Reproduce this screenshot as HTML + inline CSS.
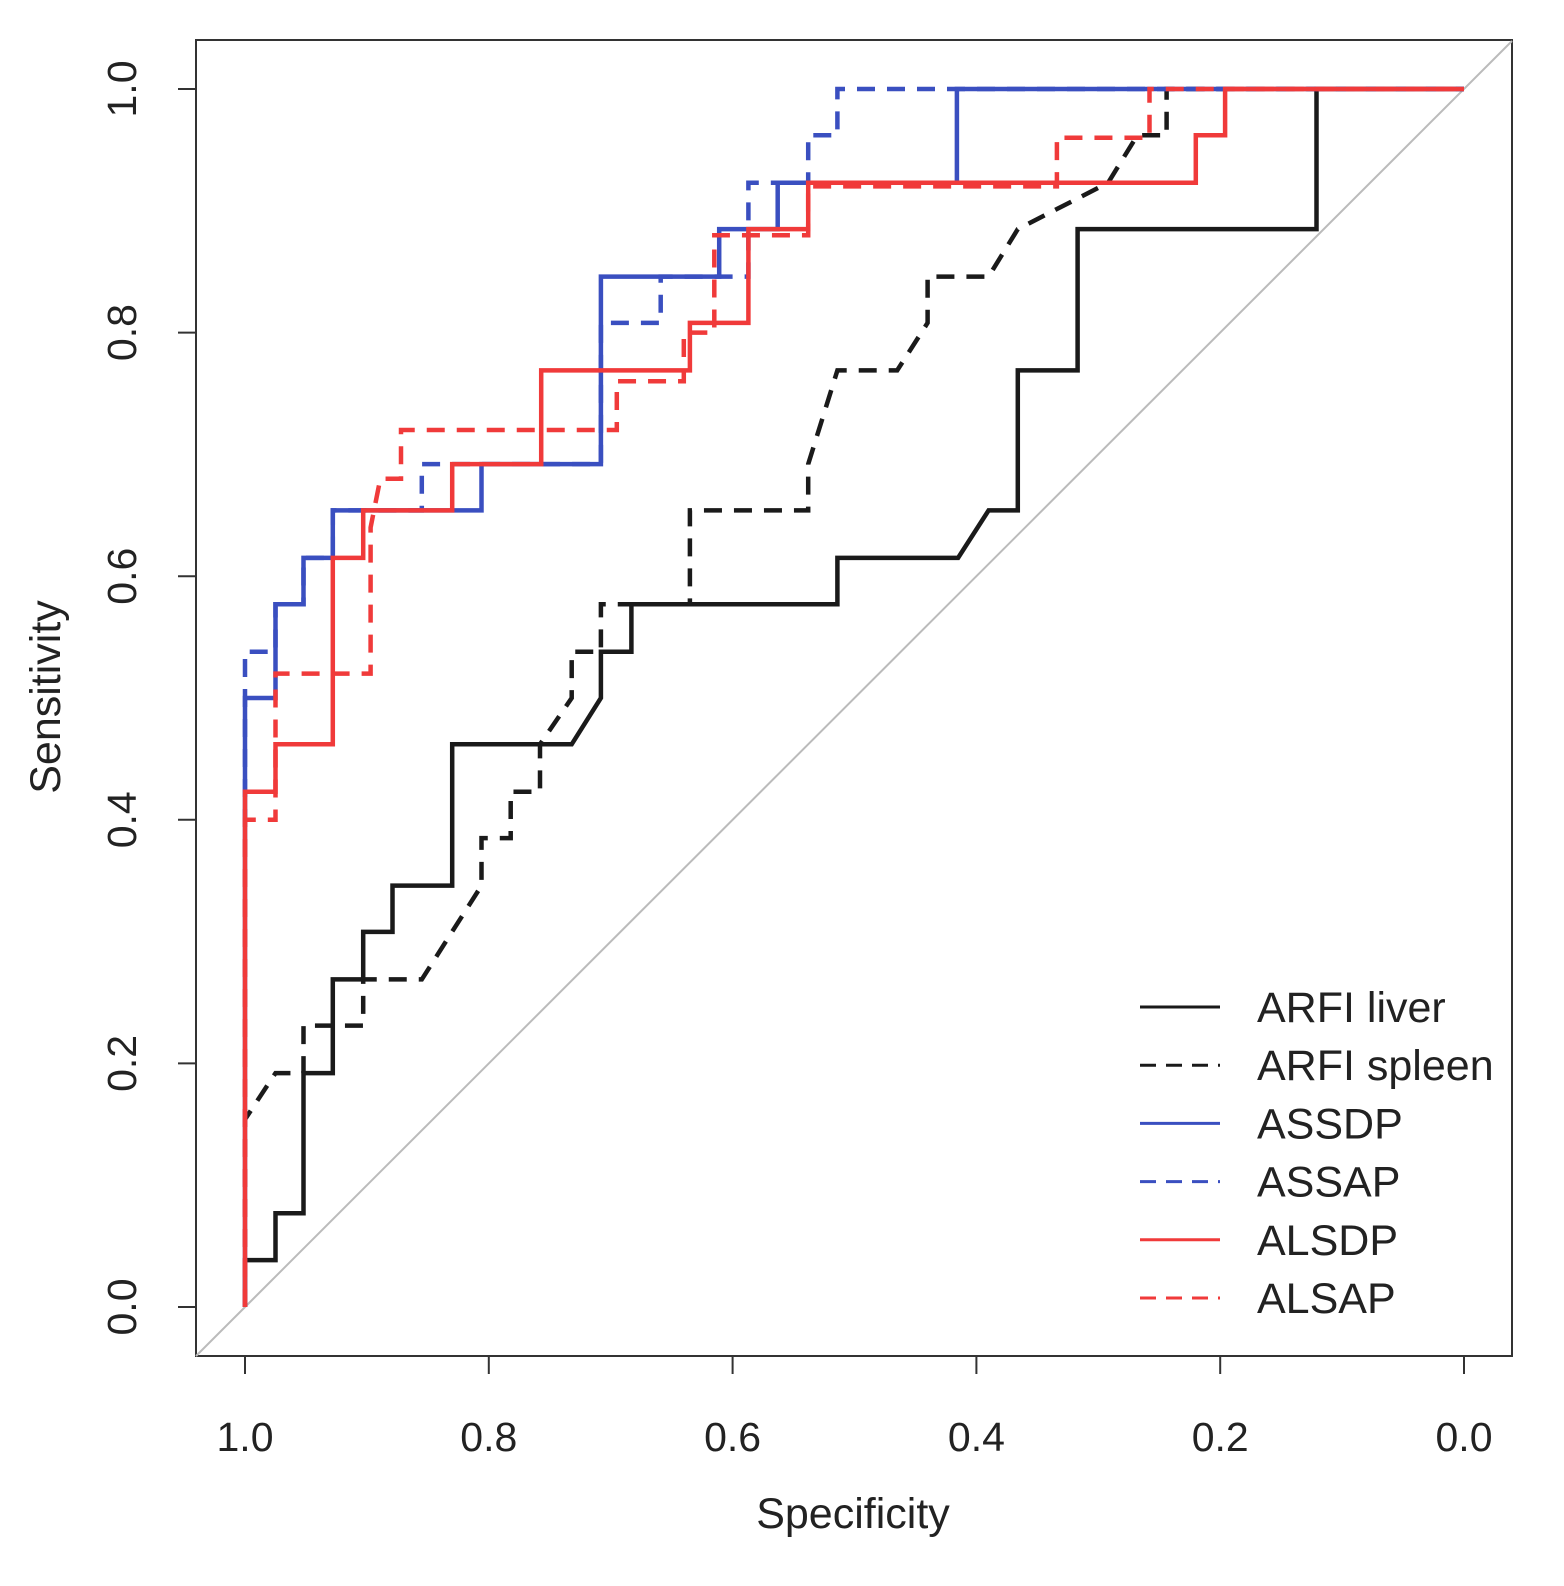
<!DOCTYPE html>
<html><head><meta charset="utf-8"><style>
html,body{margin:0;padding:0;background:#fff;}
svg{display:block;font-family:"Liberation Sans",sans-serif;}
</style></head><body>
<svg id="chart" width="1564" height="1586" viewBox="0 0 1564 1586">
<rect x="196" y="40" width="1316" height="1316" fill="none" stroke="#333" stroke-width="2"/>
<g id="axes"></g>
<g id="series"></g>
<g id="legend"></g>
</svg>
<script>
const xTicks = [1.0, 0.8, 0.6, 0.4, 0.2, 0.0];
const yTicks = [0.0, 0.2, 0.4, 0.6, 0.8, 1.0];
const seriesNames = ["ARFI liver", "ARFI spleen", "ASSDP", "ASSAP", "ALSDP", "ALSAP"];
const liverSpec = [1,1,0.975,0.975,0.952,0.952,0.928,0.928,0.903,0.903,0.879,0.879,0.830,0.830,0.732,0.708,0.708,0.683,0.683,0.514,0.514,0.415,0.390,0.366,0.366,0.317,0.317,0.121,0.121,0];
const liverSens = [0,0.0385,0.0385,0.077,0.077,0.192,0.192,0.269,0.269,0.308,0.308,0.346,0.346,0.462,0.462,0.5,0.538,0.538,0.577,0.577,0.615,0.615,0.654,0.654,0.769,0.769,0.885,0.885,1,1];
const spleenSpec = [1,1,0.975,0.952,0.952,0.903,0.903,0.855,0.806,0.806,0.782,0.782,0.758,0.758,0.732,0.732,0.708,0.708,0.635,0.635,0.538,0.538,0.514,0.465,0.440,0.440,0.390,0.366,0.366,0.292,0.268,0.244,0.244,0];
const spleenSens = [0,0.154,0.192,0.192,0.231,0.231,0.269,0.269,0.346,0.385,0.385,0.423,0.423,0.462,0.5,0.538,0.538,0.577,0.577,0.654,0.654,0.692,0.769,0.769,0.808,0.846,0.846,0.885,0.885,0.923,0.962,0.962,1,1];
const assdpSpec = [1,1,0.975,0.975,0.952,0.952,0.928,0.928,0.806,0.806,0.708,0.708,0.611,0.611,0.563,0.563,0.416,0.416,0];
const assdpSens = [0,0.5,0.5,0.577,0.577,0.615,0.615,0.654,0.654,0.692,0.692,0.846,0.846,0.885,0.885,0.923,0.923,1,1];
const assapSpec = [1,1,0.975,0.975,0.952,0.952,0.928,0.928,0.855,0.855,0.708,0.708,0.659,0.659,0.587,0.587,0.538,0.538,0.514,0.514,0];
const assapSens = [0,0.538,0.538,0.577,0.577,0.615,0.615,0.654,0.654,0.692,0.692,0.808,0.808,0.846,0.846,0.923,0.923,0.962,0.962,1,1];
const alsdpSpec = [1,1,0.975,0.975,0.928,0.928,0.903,0.903,0.830,0.830,0.757,0.757,0.635,0.635,0.587,0.587,0.538,0.538,0.220,0.220,0.196,0.196,0];
const alsdpSens = [0,0.423,0.423,0.462,0.462,0.615,0.615,0.654,0.654,0.692,0.692,0.769,0.769,0.808,0.808,0.885,0.885,0.923,0.923,0.962,0.962,1,1];
const alsapSpec = [1,1,0.975,0.975,0.897,0.897,0.889,0.872,0.872,0.695,0.695,0.640,0.640,0.615,0.615,0.538,0.538,0.334,0.334,0.258,0.258,0];
const alsapSens = [0,0.4,0.4,0.52,0.52,0.64,0.68,0.68,0.72,0.72,0.76,0.76,0.80,0.80,0.88,0.88,0.92,0.92,0.96,0.96,1,1];

const X = s => 245 + (1 - s) * 1219;
const Y = v => 1307 - v * 1218;
const NS = "http://www.w3.org/2000/svg";
function mk(tag, attrs, parent, text){const e=document.createElementNS(NS,tag);for(const k in attrs)e.setAttribute(k,attrs[k]);if(text!==undefined)e.textContent=text;parent.appendChild(e);return e;}
const axes=document.getElementById('axes');
xTicks.forEach(t=>{
  const l=mk('line',{x1:X(t),x2:X(t),y1:1356,y2:1374,stroke:'#333','stroke-width':2},axes);
  
  
  const tx=mk('text',{x:X(t),y:1451,'font-size':41,'text-anchor':'middle',fill:'#222'},axes,t.toFixed(1));
  
  
});
yTicks.forEach(t=>{
  const l=mk('line',{x1:178,x2:196,y1:Y(t),y2:Y(t),stroke:'#333','stroke-width':2},axes);
  
  
  const tx=mk('text',{x:0,y:0,'font-size':41,'text-anchor':'middle',fill:'#222',transform:`translate(136,${Y(t)}) rotate(-90)`},axes,t.toFixed(1));
  
  
});
const xt=mk('text',{x:853,y:1528,'font-size':43,'text-anchor':'middle',fill:'#222'},axes,'Specificity');


const yt=mk('text',{x:0,y:0,'font-size':43,'text-anchor':'middle',fill:'#222',transform:'translate(60,697) rotate(-90)'},axes,'Sensitivity');


const diag=mk('line',{x1:196,y1:1356,x2:1512,y2:41,stroke:'#bbb','stroke-width':2},axes);



const ser=document.getElementById('series');
const styles=[
 [liverSpec,liverSens,'#1a1a1a',null],
 [spleenSpec,spleenSens,'#1a1a1a','18 12'],
 [assdpSpec,assdpSens,'#3a4fc0',null],
 [assapSpec,assapSens,'#3a4fc0','18 12'],
 [alsdpSpec,alsdpSens,'#f03a3a',null],
 [alsapSpec,alsapSens,'#f03a3a','18 12']];
styles.forEach((s,i)=>{
  const pts=s[0].map((v,j)=>X(v).toFixed(1)+','+Y(s[1][j]).toFixed(1)).join(' ');
  const a={points:pts,fill:'none',stroke:s[2],'stroke-width':4.5,'stroke-linejoin':'miter'};
  if(s[3])a['stroke-dasharray']=s[3];
  const p=mk('polyline',a,ser);
  
  
});
const leg=document.getElementById('legend');
styles.forEach((s,i)=>{
  const y=1007+i*58.2;
  const a={x1:1140,x2:1220,y1:y,y2:y,stroke:s[2],'stroke-width':3};
  if(s[3])a['stroke-dasharray']='16 10';
  const l=mk('line',a,leg);
  
  
  const t=mk('text',{x:1257,y:y+15,'font-size':43,fill:'#222'},leg,seriesNames[i]);
  
  
});
</script>
</body></html>
